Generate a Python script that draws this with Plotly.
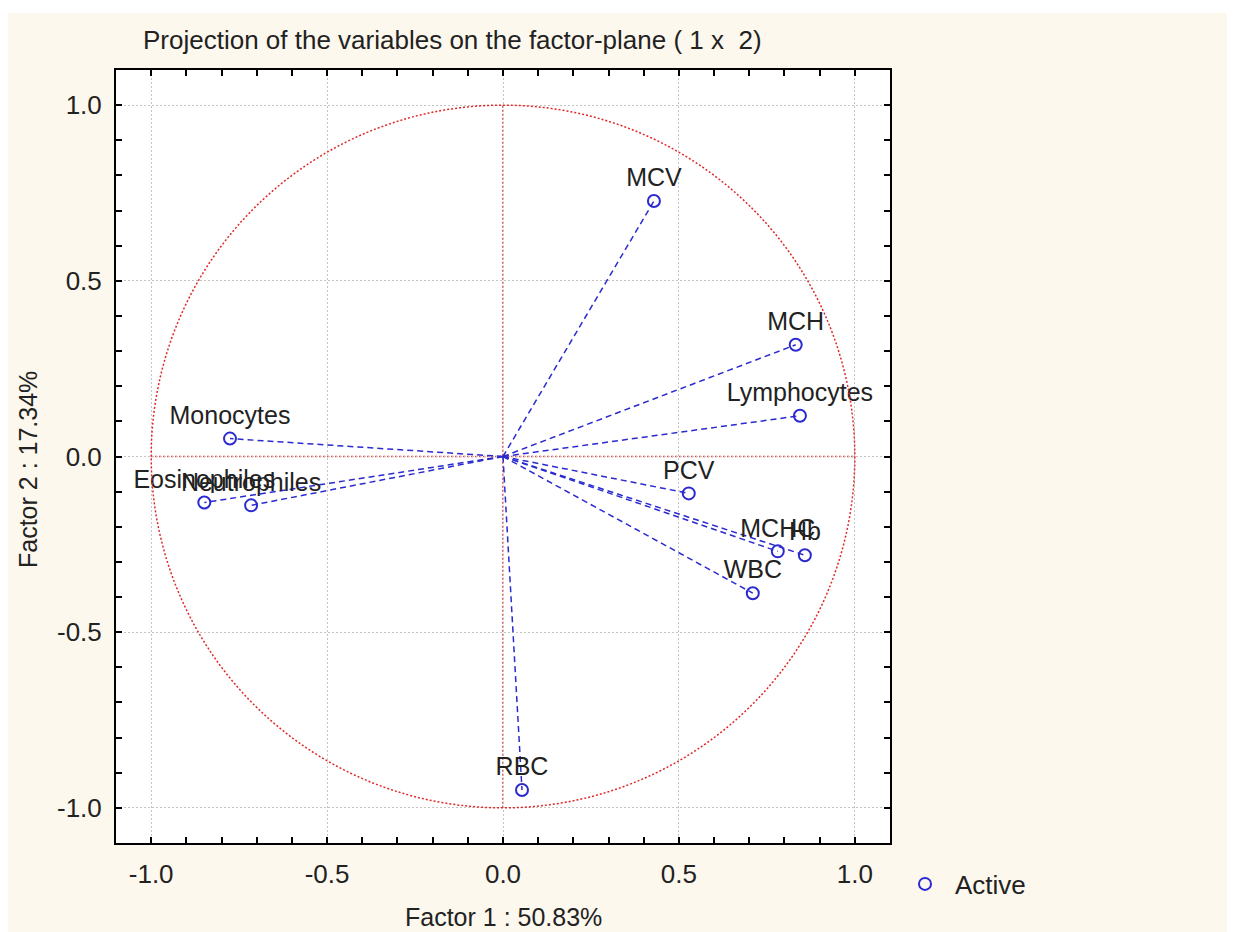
import plotly.graph_objects as go

# ---- data ----
variables = ["MCV", "MCH", "Lymphocytes", "PCV", "MCHC", "Hb", "WBC", "RBC",
             "Monocytes", "Eosinophiles", "Neutrophiles"]
factor1 = [0.429, 0.832, 0.844, 0.528, 0.781, 0.858, 0.710, 0.054,
           -0.776, -0.849, -0.716]
factor2 = [0.727, 0.318, 0.116, -0.105, -0.270, -0.281, -0.389, -0.949,
           0.051, -0.131, -0.139]
tick_vals = [-1.0, -0.5, 0.0, 0.5, 1.0]
tick_text = ["-1.0", "-0.5", "0.0", "0.5", "1.0"]

title_text = "Projection of the variables on the factor-plane ( 1 x  2)"
xlabel = "Factor 1 : 50.83%"
ylabel = "Factor 2 : 17.34%"
legend_name = "Active"

FONT = "Liberation Sans, Arial, sans-serif"
BLUE = "#2a2ad0"
RED = "#e02828"
TXT = "#222222"
BG = "#fdf8ee"

# figure is placed at an 8px page margin; all positions below are figure px
W, H = 1227, 924
L, R, T, B = 108, 345, 62, 89
PW, PH = W - L - R, H - T - B

fig = go.Figure()

# vectors from origin
lx, ly = [], []
for a, b in zip(factor1, factor2):
    lx += [0, a, None]
    ly += [0, b, None]
fig.add_trace(go.Scatter(x=lx, y=ly, mode="lines", showlegend=False,
                         hoverinfo="skip",
                         line=dict(color=BLUE, width=1.5, dash="6px,4px")))

# points + labels
fig.add_trace(go.Scatter(
    x=factor1, y=factor2, mode="markers+text", text=variables,
    textposition="top center", name=legend_name,
    textfont=dict(family=FONT, size=25, color=TXT),
    marker=dict(symbol="circle-open", size=12, color=BLUE,
                line=dict(width=2, color=BLUE)),
))

# unit circle and red axes (reference construct)
fig.add_shape(type="circle", xref="x", yref="y", x0=-1, x1=1, y0=-1, y1=1,
              line=dict(color=RED, width=1.5, dash="2px,2px"), layer="above")
fig.add_shape(type="line", xref="x", yref="y", x0=-1, x1=1, y0=0, y1=0,
              line=dict(color=RED, width=1.5, dash="2px,2px"), layer="below")
fig.add_shape(type="line", xref="x", yref="y", x0=0, x1=0, y0=-1, y1=1,
              line=dict(color=RED, width=1.5, dash="2px,2px"), layer="below")

# white strip at very top of page
fig.add_shape(type="rect", xref="paper", yref="paper",
              x0=-0.2, x1=1.5, y0=(PH + T - 5) / PH, y1=1.2,
              line=dict(width=0), fillcolor="white", layer="below")

axis_common = dict(
    range=[-1.1, 1.1], tickvals=tick_vals, ticktext=tick_text,
    ticks="inside", ticklen=6, tickwidth=1.5, tickcolor="black",
    showline=True, linecolor="black", linewidth=2, mirror="ticks",
    showgrid=True, gridcolor="#c4c4c4", gridwidth=1, griddash="2px,2px",
    zeroline=False,
    minor=dict(dtick=0.1, tick0=0, ticks="inside", ticklen=6, tickwidth=1.5,
               tickcolor="black", showgrid=False),
    tickfont=dict(family=FONT, size=26, color=TXT),
    fixedrange=True,
)

fig.update_layout(
    width=W, height=H,
    margin=dict(l=L, r=R, t=T, b=B, pad=0),
    paper_bgcolor=BG, plot_bgcolor="white",
    font=dict(family=FONT, size=25, color=TXT),
    title=dict(text=title_text, xref="container", yref="container",
               x=(143 - 8) / W, xanchor="left", y=1 - (40 - 8) / H,
               yanchor="middle",
               font=dict(family=FONT, size=26, color=TXT)),
    xaxis=dict(axis_common, ticklabelstandoff=7),
    yaxis=dict(axis_common, ticklabelstandoff=7),
    showlegend=True,
    legend=dict(x=(895 - 8 - L) / PW, xanchor="left",
                y=(T + PH - (884 - 8)) / PH, yanchor="middle",
                itemwidth=50, bgcolor="rgba(0,0,0,0)",
                font=dict(family=FONT, size=26, color=TXT)),
    annotations=[
        dict(text=xlabel, xref="paper", yref="paper", x=0.5,
             y=(T + PH - (917 - 8)) / PH,
             xanchor="center", yanchor="middle", showarrow=False,
             font=dict(family=FONT, size=25, color=TXT)),
        dict(text=ylabel, xref="paper", yref="paper", x=(28 - 8 - L) / PW,
             y=(T + PH - (470 - 8)) / PH, xanchor="center", yanchor="middle",
             textangle=-90, showarrow=False,
             font=dict(family=FONT, size=25, color=TXT)),
    ],
)

fig.write_html("out.html")
